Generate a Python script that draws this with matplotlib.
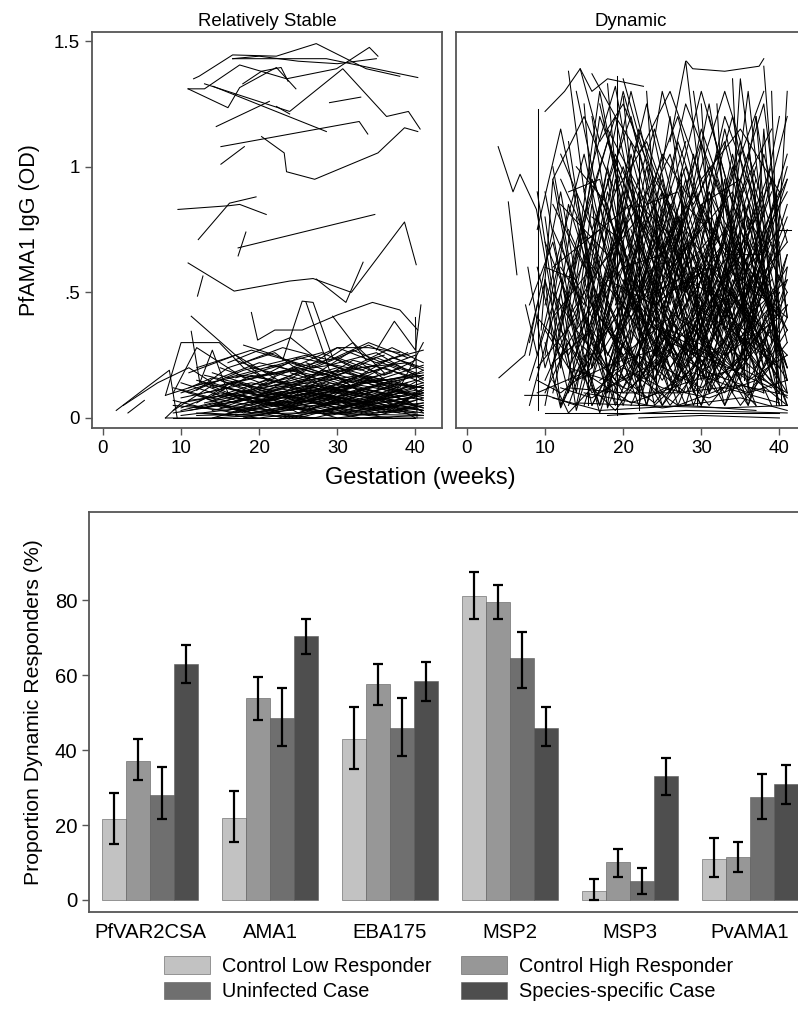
import numpy as np
import matplotlib.pyplot as plt

plt.rcParams['font.family'] = ['Liberation Sans', 'DejaVu Sans']

# --- top panels: individual PfAMA1 IgG trajectories, "week:OD" pairs ---
stable = [
    "11.6:1.35 12.3:1.36 16.6:1.445 22.2:1.44 27.3:1.49 33.7:1.39 38:1.36",
    "16.6:1.43 28.6:1.43 40.3:1.355",
    "10.9:1.31 13:1.31 17.5:1.405 23.5:1.35 29.9:1.39 34.1:1.475 35.2:1.44",
    "10.9:1.31 16:1.235 17.5:1.315 22.2:1.395 24.7:1.31",
    "13:1.33 23.9:1.22 30.7:1.39 36.3:1.2 39.1:1.22 40.6:1.15",
    "14.1:1.32 28.6:1.14",
    "14.5:1.16 21.3:1.26",
    "15.1:1.08 32.8:1.18 33.9:1.13",
    "15.1:1.01 18.1:1.08",
    "20.3:1.12 23.2:1.055 23.5:.98 27.1:.95 35.2:1.055 38.6:1.155 40.3:1.14",
    "29:1.255 33:1.277",
    "17.9:1.33 20.3:1.38 22.8:1.395 23.7:1.34",
    "22.2:1.24 23.9:1.21",
    "16.6:1.43 20:1.44 25:1.42 30:1.41 35:1.43",
    "9.6:.83 16.2:.845 17.5:.85 20.9:.81",
    "12.2:.71 16.2:.855 19.6:.88",
    "18.3:.74 17.3:.645",
    "17.3:.677 34.8:.81",
    "10.9:.617 16.8:.505 23.9:.545 26.9:.555 31.8:.5 38.6:.78 40.1:.61",
    "27.3:.553 31.1:.46 33.3:.62",
    "12.8:.565 12.1:.485",
    "1.7:.03 5.5:.12 8.5:.19 9.5:0",
    "3.2:.02 5.3:.07",
    "2.6:.05 7:.14 11:.2 14:.14 18:.1",
    "8:.09 10:.3 14.9:.3 18:.2 22:.14",
    "11.3:.405 17.9:.225 21:.15",
    "11.3:.345 12.4:.14 14:.27 16:.1",
    "19:.42 19.8:.31 20.9:.33 22:.35 25.5:.35 30:.41 34.5:.46 38:.43 40.3:.35",
    "23:.23 25.5:.465 26.9:.46 29.4:.24 32:.2",
    "26:.46 29:.19 33:.1",
    "29.4:.405 33.7:.23 36:.25",
    "35:.27 37.3:.385 40:.27 40.7:.45",
    "40:.4 40.2:0",
    "18:.29 22:.25 26:.2 30:.28 34:.28 38:.26",
    "16:.22 20:.27 24:.32 28:.22 32:.3 36:.18",
    "9:.02 15:.05 22:.03 30:.08 39:.04",
    "8:0 14:0 20:.01 28:0 41:0",
    "10:.08 16:.12 24:.06 33:.1 40:.05",
    "12:.15 18:.1 25:.18 31:.12 38:.2",
    "11:.05 17:.02 26:.07 35:.03 41:.01",
    "13:.1 19:.14 27:.09 34:.15 40:.12",
    "9:.12 14:.08 21:.15 29:.11 37:.06",
    "15:.2 21:.13 28:.22 36:.15 41:.18",
    "10:.01 18:.04 23:0 32:.05 40:.02",
    "16:.06 22:.1 30:.04 38:.09",
    "14:.03 20:.07 27:.02 33:.06 41:.1",
    "12:.09 19:.05 26:.12 34:.08 39:.14",
    "17:.16 24:.22 31:.15 37:.21 41:.16",
    "9:.05 16:.03 24:.09 31:.02 40:.07",
    "18:0 25:.04 32:.01 39:.06",
    "11:.18 17:.25 23:.14 30:.2 36:.13",
    "20:.11 27:.06 35:.13 41:.08",
    "13:.04 21:.09 29:.05 38:.11",
    "15:.13 22:.18 30:.24 36:.17 40:.23",
    "8:.09 13:.14 19:.06 27:.1 35:.05 41:.03",
    "12:.02 20:0 28:.03 37:0",
    "14:.07 18:.11 25:.08 33:.13 40:.09",
    "16:.1 23:.05 31:.09 39:.03",
    "19:.2 26:.15 32:.27 38:.19",
    "10:.14 17:.07 24:.13 33:.17 41:.12",
    "21:.02 28:.08 35:.04 41:.06",
    "13:.17 20:.12 28:.16 34:.1 40:.15",
    "9:.1 12:.28 18:.16 26:.2 32:.14",
    "22:.13 29:.1 36:.16 41:.21",
    "11:.03 19:.08 27:.13 36:.07",
    "15:.01 23:.06 30:0 40:.04",
    "17:.05 25:.11 33:.07 41:.14",
    "24:.18 30:.12 37:.24 41:.2",
    "12:.11 16:.2 22:.26 28:.12 35:.09",
    "10:.04 15:.1 21:.07 30:.12 38:.16",
    "18:.09 26:.03 34:.1 40:0",
    "20:.16 25:.24 33:.19 39:.26",
    "14:.12 21:.17 29:.21 35:.26 41:.15",
    "8:0 10:.06 17:.1 24:0 32:.06 41:.02",
    "16:.14 24:.1 32:.13 38:.08",
    "23:.04 29:.14 36:.1 41:.04",
    "13:.06 22:.12 31:.18 39:.1",
    "19:.03 27:0 34:.05 41:.09",
    "11:.1 18:.19 26:.25 31:.19 37:.28 41:.22",
    "25:.08 32:.16 38:.12 41:.3",
    "15:.16 20:.22 27:.17 35:.21",
    "12:.06 17:.15 25:.02 33:.11 40:.18",
    "21:.2 28:.26 34:.18 40:.25",
    "9:.03 14:.13 22:.08 28:.19 36:.12 41:.07",
    "26:.12 33:.04 39:.13",
    "17:.23 22:.17 30:.28 35:.22 41:.27",
    "10:.11 19:.02 27:.06 35:.01 41:.05",
    "14:0 20:.05 29:.09 38:.02",
    "22:.07 30:.16 37:.03 41:.12",
    "16:.08 23:.14 31:.06 40:.11",
    "18:.13 24:.08 32:.23 39:.17",
    "12:.2 19:.27 27:.2 34:.29 40:.2",
    "27:.14 33:.22 39:.09",
    "20:.09 26:.19 33:.14 41:.17",
    "13:.08 18:.02 26:.1 34:.06 41:.13",
    "9:0 40:0",
    "12:.01 25:.02 41:.01",
    "17:.04 23:.09 28:.02 35:.07 41:.03",
    "24:.05 31:.11 38:.06 41:.1",
    "14:.09 19:.17 25:.12 31:.04 37:.1",
    "10:.03 14:.06 19:.02 24:.05 29:.01 34:.04 40:.02",
    "12:.04 17:.08 23:.04 28:.09 33:.05 39:.08",
    "14:.05 18:.03 23:.07 29:.03 35:.08 41:.04",
    "9:.07 13:.04 18:.09 24:.03 30:.07 36:.02 41:.06",
    "16:.02 21:.06 26:.03 31:.07 37:.04 41:.08",
    "11:.07 16:.09 22:.05 27:.11 33:.06 38:.1",
    "13:.13 18:.07 24:.11 30:.06 36:.12 41:.09",
    "15:.08 20:.12 26:.07 32:.12 37:.08 41:.11",
    "17:.01 22:.03 27:.05 32:.02 38:.05 41:.03",
    "19:.06 24:.1 29:.06 34:.11 39:.07",
    "20:.04 25:0 30:.04 35:.02 41:.05",
    "21:.1 26:.14 31:.1 36:.14 41:.12",
    "12:.13 18:.17 24:.14 30:.19 36:.14 41:.17",
    "10:.1 15:.15 20:.09 26:.15 32:.1 38:.15",
    "14:.18 19:.13 25:.2 31:.14 37:.18",
    "16:.16 22:.21 28:.15 33:.2 39:.22 41:.19",
    "23:.09 28:.13 33:.09 38:.14 41:.1",
    "25:.02 29:.06 34:.03 39:.07 41:.02",
    "27:.07 31:.03 36:.08 40:.05",
    "28:.18 32:.14 36:.2 41:.14",
    "30:.1 34:.15 38:.11 41:.16",
    "18:.22 23:.28 29:.23 34:.3 39:.24",
    "13:.02 19:.01 26:.04 33:0 41:.01",
    "11:.12 14:.16 19:.11 22:.16",
    "15:.04 19:.08 24:.06 28:.1 32:.04",
    "22:.05 27:.09 32:.05 36:.1 41:.07",
    "24:.12 29:.08 33:.15 37:.1 41:.13",
    "26:.22 30:.17 35:.24 40:.18",
    "20:.13 24:.16 28:.11 33:.17 37:.13 41:.19",
    "17:.11 21:.08 26:.13 31:.09 36:.03 41:.11",
]

dynamic = [
    "4:1.08 5.9:.9 6.8:.97 8.9:.83 10.5:.55 12:.2",
    "5.3:.86 6.4:.57",
    "4.1:.16 7.4:.25 9:.45",
    "9.1:1.23 9.1:.03",
    "7.4:.09 10.2:.09 14:.05",
    "28.1:1.42 28.9:1.39 33:1.38 37.4:1.4 38:1.43",
    "10:1.22 12.5:1.3 14.5:1.39 16:1.3 18:1.35 22.6:1.32",
    "19.2:1.36 19.2:.01",
    "8:.3 12:.9 16:.2 21:1.1 27:.4",
    "10:.05 14:.7 19:1.2 25:.3 31:.9 38:.2",
    "11:1.0 15:.3 20:.8 26:.1 33:.7 40:.4",
    "12:.2 17:1.3 22:.5 28:1.0 35:.3 41:.6",
    "9:.6 13:.1 18:.9 24:.25 30:1.15 37:.5",
    "14:.05 18:.6 23:1.25 29:.4 36:.95 41:.1",
    "13:1.1 16:.5 21:.15 27:.8 34:.2 40:1.2",
    "10:.45 15:1.05 20:.35 25:1.3 31:.6 39:.05",
    "15:.2 19:.95 24:.15 30:.5 35:1.1 41:.3",
    "8:.15 12:.55 17:.05 22:.7 28:.2 34:.85 40:.45",
    "16:1.2 20:.4 26:.9 32:.15 38:.7",
    "11:.3 14:.9 18:.2 23:.6 29:.05 35:.55 41:.9",
    "12:.7 18:.1 24:.85 30:.3 37:1.0",
    "17:.3 21:1.05 26:.45 31:1.25 36:.35 41:.75",
    "10:.9 13:.4 19:.7 25:.05 32:.45 39:.25",
    "13:.15 16:.85 22:.3 27:1.1 33:.55 40:.15",
    "9:.2 14:.4 20:1.3 26:.6 34:.9 41:.2",
    "18:.05 22:.9 27:.15 31:.7 38:1.3",
    "11:.6 17:.75 23:.05 28:.55 35:.15 40:.8",
    "14:1.3 19:.55 25:.9 30:.2 36:.65",
    "15:.4 20:.05 25:.6 30:.95 35:.4 41:1.05",
    "12:.35 16:.15 21:.95 27:.5 32:1.05 38:.1",
    "8:.05 11:.4 16:.6 22:.2 29:.75 36:.05 41:.45",
    "19:.8 23:.35 28:.95 33:.25 39:.6",
    "10:.25 13:.85 17:.45 24:1.15 31:.35 37:.8",
    "16:.35 20:.9 26:.25 33:1.2 40:.6",
    "13:.55 18:1.1 23:.7 29:.15 34:.7 41:.35",
    "11:.1 15:.65 21:.4 28:.85 35:.6 40:.05",
    "20:.2 24:.75 29:.3 34:1.05 39:.4",
    "9:.4 13:.25 18:.55 24:.45 30:.6 37:.2 41:.55",
    "17:1.25 21:.7 27:.2 32:.8 38:.5",
    "12:.05 15:.3 20:.65 26:1.05 31:.45 38:.85",
    "14:.8 17:.3 22:1.15 28:.65 33:.05 40:.7",
    "10:.7 16:.25 21:.55 27:.35 34:.5 41:.15",
    "22:.4 26:1.2 31:.1 36:.8 41:.5",
    "15:.9 19:.3 24:.55 30:1.3 35:.75 40:.3",
    "11:.2 16:.95 23:.45 30:.05 37:.6",
    "18:.45 23:.15 28:.7 33:.4 39:.9",
    "13:.35 17:.05 22:.45 27:.25 32:.55 38:.35 41:.05",
    "16:.65 21:.2 26:.75 31:.3 36:.05 41:.65",
    "19:1.0 24:.5 30:.75 35:.25 40:.95",
    "12:.5 14:.15 19:.4 25:.75 33:.3 39:.7",
    "21:.05 25:.35 30:.1 35:.45 41:.25",
    "10:.15 15:.5 20:.25 26:.4 33:.1 39:.5",
    "17:.55 20:.15 25:.45 29:.35 34:.2 40:.45",
    "14:.25 18:.75 24:.35 28:.05 33:.6 41:.4",
    "23:.6 27:.3 32:.95 37:.45 41:.85",
    "9:.75 12:1.15 16:.55 21:1.3 25:.8",
    "20:1.35 24:.9 29:.55 34:.8 39:.15",
    "11:.5 14:.35 19:.15 23:.8 29:.45 36:.3",
    "15:.05 18:.35 24:.15 29:.6 34:.35 40:.1",
    "13:.75 18:.4 22:.05 27:.6 32:.2 37:.4",
    "24:.1 28:.45 33:.85 37:.15 41:.35",
    "16:.45 19:.6 25:.25 30:.85 36:.45 41:.95",
    "12:.95 17:.6 22:.8 29:.25 35:.85",
    "18:.25 22:.55 27:.05 31:.35 37:.7 41:.15",
    "10:.35 14:.15 20:.45 24:.25 31:.7 36:.2",
    "21:.5 26:.15 31:.5 36:.15 40:.35",
    "14:.5 19:.05 24:.4 31:.15 38:.55",
    "8:.45 11:.7 15:.15 20:.6 25:.2",
    "25:.55 29:.9 34:.4 38:1.05 41:.7",
    "13:.05 17:.4 21:.25 26:.55 30:.3 35:.05 40:.25",
    "19:.35 23:1.0 27:.4 32:.65 38:.25",
    "11:.85 15:.6 19:1.05 24:.7 28:1.25 33:.85",
    "16:.05 20:.3 25:.05 30:.25 36:.55 41:.2",
    "22:.85 27:.7 33:1.3 38:.8",
    "12:.25 16:.45 22:.15 26:.35 33:.25 40:.4",
    "9:.9 11:.5 14:.1 17:.7",
    "26:.3 30:.05 34:.55 38:.35 41:.45",
    "15:.7 21:.85 26:.6 32:.4 37:.95",
    "17:.15 22:.25 28:.1 34:.35 41:.55",
    "10:.55 12:.05 16:.3 20:.1 26:.25 31:.05 39:.35",
    "18:.95 21:.45 27:.55 31:.9 36:.6 40:.75",
    "13:.45 16:.05 21:.35 25:.15 30:.4 36:.1 41:.3",
    "20:.55 24:.2 28:.35 33:.05 37:.3 41:.1",
    "14:1.0 18:.85 23:.2 30:.55 34:1.0 39:.45",
    "11:.75 16:.4 20:.75 25:.35 31:.2",
    "27:.95 31:.55 35:.7 39:.2 41:.6",
    "12:.85 18:.65 24:.95 29:.7 36:.4 41:.8",
    "19:.1 22:.4 27:.3 32:.1 36:.3 40:.2",
    "22:.25 26:.05 31:.25 35:.9 39:1.15",
    "16:.8 20:.7 24:.05 29:.2 35:.5 41:.05",
    "10:.02 14:.02 22:.02 30:.02 40:.02",
    "22:0 30:.01 40:0",
    "15:.1 25:.04 35:.08 41:.03",
    "11:.08 17:.03 28:.05 37:.03",
    "30:1.25 32:.3 36:1.3 40:.2",
    "34:1.35 36:.1 38:1.15 40:.4",
    "38:1.4 40:.6",
    "39:1.3 40.3:.05",
    "36:1.1 39:.3 41:1.3",
    "37:1.2 40:.1",
    "33:.4 35:1.35 38:.6",
    "26:1.1 28:1.42 30:.9",
    "40:.75 41.5:.75",
    "22:1.05 22:.03",
    "27.4:.98 27.4:.5",
    "31.3:.9 31.3:.4",
    "13:1.38 15:.9 19:1.32 23:.6 28:1.1",
    "14.5:1.39 17:1.1 20:1.25 24:.95 27:1.2 31:.7",
    "16:1.37 19:1.2 22:1.05 26:1.3 30:.95 35:1.15 40:.9",
    "18:1.33 21:.3 25:.9 29:.1 34:.6",
    "15:1.25 18:.15 22:.6 26:.2 32:.45 37:.05",
    "20:1.28 23:.35 27:.65 32:.15 38:.35",
    "23:1.3 25:.4 29:1.05 33:.5 37:1.2 41:.4",
    "29:1.3 31:.85 34:1.2 37:.7 41:1.2",
    "32:1.25 34:.2 37:.85 40:.15",
    "10:.8 12:.35 15:.75 18:.2 21:.5 26:.1 31:.6 38:.3",
    "8:.25 10:.55 13:.2 17:.45 22:.1 28:.4 34:.15 40:.5",
    "9:.15 12:.1 16:.2 21:.45 27:.15 33:.3 40:.1",
    "11:.4 13:.6 17:.25 21:.85 25:.45 29:.65 34:.1 39:.8",
    "12:.6 15:.45 18:1.0 22:.35 26:.7 30:.15 35:.75 41:.35",
    "14:.35 17:.85 20:.5 25:.95 28:.5 33:.7 38:.15",
    "15:.55 18:.25 23:.55 27:.8 31:.2 36:.5 41:.7",
    "16:.2 19:.5 23:.3 26:.6 31:.8 34:.3 39:.55",
    "17:.7 20:1.0 24:.6 28:.25 32:.5 37:.25 41:.5",
    "18:.6 22:.1 25:.8 28:.55 34:.45 40:.9",
    "19:.45 22:.7 26:.4 30:.65 33:.35 37:.6 41:.2",
    "20:.35 23:.05 26:.5 31:.6 35:.2 39:.75",
    "21:.75 24:.45 28:.8 32:.35 36:.7 40:.05",
    "22:.15 25:.7 29:.25 33:.75 37:.3 41:.65",
    "23:.5 26:.85 30:.35 33:.95 36:.25 40:.5",
    "24:.3 27:.1 31:.45 35:.65 38:.2 41:.4",
    "25:.2 28:.6 32:.75 35:.3 39:.45",
    "26:.65 29:.2 33:.55 36:.85 40:.25",
    "27:.15 30:.45 34:.25 38:.5 41:.15",
    "28:.4 31:.1 35:.35 38:.75 41:.95",
    "10:.1 13:.3 16:.1 20:.2 25:.12 31:.08 37:.15 41:.05",
    "12:.12 16:.08 21:.18 27:.05 33:.12 40:.06",
    "13:.2 18:.15 23:.08 29:.18 36:.1 41:.15",
    "9:.1 15:.18 21:.06 28:.14 35:.2 41:.1",
    "14:.15 19:.22 25:.28 31:.18 38:.1",
    "17:.1 24:.22 30:.12 36:.25 41:.08",
    "11:.22 16:.35 21:.12 26:.3 32:.22 39:.12",
    "19:.18 24:.06 30:.28 36:.15 41:.25",
    "15:.28 20:.12 25:.35 31:.25 37:.05",
    "12:.4 16:.7 20:.45 23:.9 27:.65 31:1.0 36:.6",
    "10:.6 14:.55 17:1.2 21:.85 26:.55 30:.85 35:.95 40:.55",
    "13:.9 17:.95 20:.6 25:.65 29:.9 33:.65 38:.65",
    "16:.95 21:.6 25:1.05 29:.85 33:1.1 37:.55 41:1.0",
    "18:1.15 23:.85 27:.9 31:.5 36:1.05 40:.65",
    "11:.95 15:1.2 19:.9 23:1.1 27:.75",
    "12:1.05 16:.75 21:1.2 25:.65 30:1.1 34:.6 39:1.0",
    "31:1.2 34:.85 38:1.25 40:.75",
    "30:.7 33:1.15 36:.75 39:.95 41:.4",
    "7.5:.45 9:.25 12:.65 14:.3",
    "7.8:.6 10:.2 13:.5",
    "9.5:.35 11:.95 14:.45",
    "15.5:.05 15.5:.65",
    "24.2:.1 24.2:.8",
    "29.5:.05 29.5:.6",
    "35.5:.15 35.5:.85",
    "39.5:.05 39.5:.9",
    "14:.06 22:.05 33:.04 41:.05",
    "18:.01 28:.03 41:.02",
    "13:.12 20:.1 27:.1 35:.13 41:.09",
    "10:.3 12:.04 15:.25 17:.02 20:.3",
    "12:.45 14:.03 17:.35 19:.06",
    "16:.5 18:.04 21:.28",
    "11:.15 13:.02 16:.12 19:.03 23:.2",
]

# --- bottom panel ---
antigens = ["PfVAR2CSA", "AMA1", "EBA175", "MSP2", "MSP3", "PvAMA1"]
groups = ["Control Low Responder", "Control High Responder",
          "Uninfected Case", "Species-specific Case"]
pct = [[21.5, 37, 28, 63],
       [22, 54, 48.5, 70.5],
       [43, 57.5, 46, 58.5],
       [81, 79.5, 64.5, 46],
       [2.5, 10, 5, 33],
       [11, 11.5, 27.5, 31]]
ci_lo = [[15, 32, 21.5, 58],
         [15.5, 48, 41, 65.5],
         [35, 52, 38.5, 53],
         [75, 75, 56.5, 41],
         [0, 6, 1.5, 28],
         [6, 7.5, 21.5, 25.5]]
ci_hi = [[28.5, 43, 35.5, 68],
         [29, 59.5, 56.5, 75],
         [51.5, 63, 54, 63.5],
         [87.5, 84, 71.5, 51.5],
         [5.5, 13.5, 8.5, 38],
         [16.5, 15.5, 33.5, 36]]
bar_colors = ["#c2c2c2", "#979797", "#6f6f6f", "#4e4e4e"]


def parse(traj):
    pts = [p.split(":") for p in traj.split()]
    return [float(a) for a, b in pts], [float(b) for a, b in pts]


fig = plt.figure(figsize=(7.98, 10.24), dpi=100)
frame_col = "#555555"

ax1 = fig.add_axes([0.1153, 0.582, 0.4386, 0.3867])
ax2 = fig.add_axes([0.5714, 0.582, 0.4386, 0.3867])
for ax, data, title in [(ax1, stable, "Relatively Stable"), (ax2, dynamic, "Dynamic")]:
    for t in data:
        x, y = parse(t)
        ax.plot(x, y, color="black", lw=0.75)
    ax.set_xlim(-1.4, 43.4)
    ax.set_ylim(-0.04, 1.536)
    ax.set_xticks([0, 10, 20, 30, 40])
    ax.set_title(title, fontsize=13.4, pad=4)
    ax.tick_params(labelsize=13.5, length=5, width=1, color=frame_col)
    for s in ax.spines.values():
        s.set_color(frame_col)
        s.set_linewidth(1.3)
ax1.set_yticks([0, 0.5, 1, 1.5])
ax1.set_yticklabels(["0", ".5", "1", "1.5"])
ax2.set_yticks([])
ax1.set_ylabel("PfAMA1 IgG (OD)", fontsize=15.5, labelpad=10)
fig.text(0.527, 0.533, "Gestation (weeks)", fontsize=17, ha="center", va="center")

ax3 = fig.add_axes([0.1115, 0.1094, 0.905, 0.3906])
x = np.arange(len(antigens))
w = 0.2
pct = np.array(pct)
ci_lo = np.array(ci_lo)
ci_hi = np.array(ci_hi)
handles = []
for j in range(4):
    xs = x + (j - 1.5) * w
    b = ax3.bar(xs, pct[:, j], width=w, color=bar_colors[j], edgecolor="#5a5a5a",
                linewidth=0.4, label=groups[j])
    handles.append(b)
    ax3.errorbar(xs, pct[:, j], yerr=[pct[:, j] - ci_lo[:, j], ci_hi[:, j] - pct[:, j]],
                 fmt="none", ecolor="black", elinewidth=1.6, capsize=3.5, capthick=1.6)
ax3.set_xlim(-0.508, 5.508)
ax3.set_ylim(-3.2, 103.5)
ax3.set_xticks(x)
ax3.set_xticklabels(antigens)
ax3.set_yticks([0, 20, 40, 60, 80])
ax3.tick_params(axis="x", length=0, labelsize=14.6, pad=8)
ax3.tick_params(axis="y", length=5, width=1, color=frame_col, labelsize=14.6)
ax3.set_ylabel("Proportion Dynamic Responders (%)", fontsize=15.3, labelpad=8)
for s in ax3.spines.values():
    s.set_color(frame_col)
    s.set_linewidth(1.3)

order = [0, 2, 1, 3]
fig.legend([handles[i] for i in order], [groups[i] for i in order], ncol=2,
           loc="upper left", bbox_to_anchor=(0.206, 0.066), frameon=False,
           fontsize=14.3, handlelength=2.3, handleheight=0.95, handletextpad=0.6,
           columnspacing=1.5, labelspacing=0.3, borderaxespad=0, borderpad=0)

fig.savefig("out.png", dpi=100)
